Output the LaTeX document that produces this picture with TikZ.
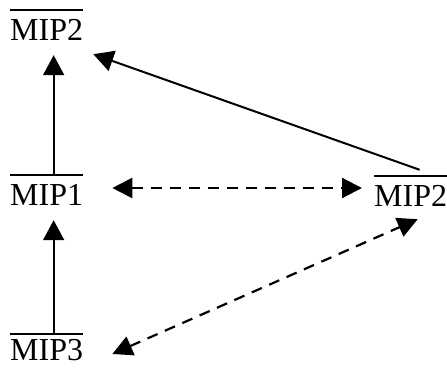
\documentclass[tikz,border=0pt]{standalone}
\usepackage{fontspec}
\setmainfont{Liberation Serif}
\usetikzlibrary{arrows.meta}
\begin{document}
\begin{tikzpicture}[x=1pt,y=-1pt,
  lbl/.style={inner sep=0pt, anchor=base west, text height=30pt, text depth=0pt,
    font=\fontsize{32}{36}\selectfont},
  bar/.style={line width=1.4pt},
  conn/.style={line width=2pt, -{Triangle[length=20pt,width=21pt]}},
  dconn/.style={line width=2.2pt, {Triangle[length=20pt,width=20pt]}-{Triangle[length=20pt,width=20pt]}, dash pattern=on 11pt off 8pt}
]
\useasboundingbox (0,0) rectangle (447,367);
\node[lbl] (t2) at (10,40) {MIP2};
\node[lbl] (m1) at (10,205) {MIP1};
\node[lbl] (r2) at (374,206) {MIP2};
\node[lbl, text height=26pt] (m3) at (10,360) {MIP3};
\foreach \n in {t2,m1,r2,m3}
  \draw[bar] (\n.north west) -- (\n.north east);

\draw[conn] ([xshift=7pt]m1.north) -- ([shift={(7,15)}]t2.south);
\draw[conn] ([xshift=7pt]m3.north) -- ([shift={(7,15)}]m1.south);
\draw[conn] ([shift={(9,-6)}]r2.north) -- ([shift={(10,14)}]t2.south east);
\draw[dconn] ([shift={(29,-2)}]m1.east) -- ([shift={(-12,-3)}]r2.west);
\draw[dconn] ([shift={(29,7)}]m3.east) -- ([shift={(7,13)}]r2.south);
\end{tikzpicture}
\end{document}
